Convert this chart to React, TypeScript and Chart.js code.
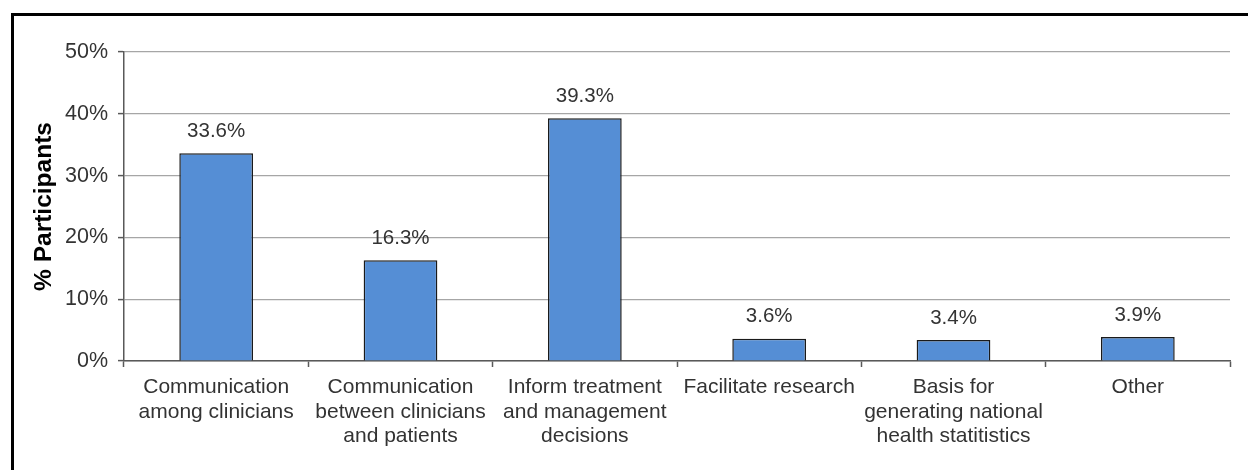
import React, { useEffect, useRef } from "react";
import { Chart, registerables } from "chart.js";

Chart.register(...registerables);

const categories: string[][] = [
  ["Communication", "among clinicians"],
  ["Communication", "between clinicians", "and patients"],
  ["Inform treatment", "and management", "decisions"],
  ["Facilitate research"],
  ["Basis for", "generating national", "health statitistics"],
  ["Other"],
];
const values: number[] = [33.6, 16.3, 39.3, 3.6, 3.4, 3.9];
const yTicks: number[] = [0, 10, 20, 30, 40, 50];
const yTitle = "% Participants";

const FONT = "'Liberation Sans', Arial, sans-serif";
const TEXT = "#333333";
const AXIS = "#595959";

const dataLabels = {
  id: "dataLabels",
  afterDatasetsDraw(chart: any) {
    const ctx = chart.ctx;
    const meta = chart.getDatasetMeta(0);
    ctx.save();
    ctx.font = `20.5px ${FONT}`;
    ctx.fillStyle = TEXT;
    ctx.textAlign = "center";
    ctx.textBaseline = "middle";
    meta.data.forEach((bar: any, i: number) => {
      ctx.fillText(values[i].toFixed(1) + "%", bar.x, bar.y - 22);
    });
    ctx.restore();
  },
};

export default function App() {
  const ref = useRef<HTMLCanvasElement | null>(null);
  useEffect(() => {
    if (!ref.current) return;
    const chart = new Chart(ref.current, {
      type: "bar",
      data: {
        labels: categories,
        datasets: [
          {
            data: values,
            backgroundColor: "#558ED5",
            borderColor: "#1a1a1a",
            borderWidth: 1.5,
            barPercentage: 0.8,
            categoryPercentage: 0.5,
          },
        ],
      },
      options: {
        animation: false,
        responsive: false,
        maintainAspectRatio: false,
        layout: { padding: { left: 0, top: 52, right: 18, bottom: 0 } },
        plugins: { legend: { display: false }, tooltip: { enabled: false } },
        scales: {
          x: {
            offset: true,
            grid: {
              drawOnChartArea: false,
              drawTicks: true,
              tickLength: 6,
              tickColor: AXIS,
              tickWidth: 1.5,
              offset: true,
            },
            border: { color: AXIS, width: 1.5 },
            ticks: {
              autoSkip: false,
              maxRotation: 0,
              minRotation: 0,
              padding: 8,
              color: TEXT,
              font: { family: FONT, size: 21, lineHeight: "24.5px" },
            },
            afterFit: (s: any) => {
              s.height = 109;
            },
          },
          y: {
            min: yTicks[0],
            max: yTicks[yTicks.length - 1],
            afterBuildTicks: (s: any) => {
              s.ticks = yTicks.map((v) => ({ value: v }));
            },
            grid: {
              color: "#a6a6a6",
              lineWidth: 1.2,
              tickLength: 6,
              tickColor: AXIS,
              tickWidth: 1.5,
            },
            border: { color: AXIS, width: 1.5 },
            ticks: {
              padding: 10,
              color: TEXT,
              font: { family: FONT, size: 21.5 },
              callback: (v: any) => v + "%",
            },
            title: {
              display: true,
              text: yTitle,
              color: "#000000",
              font: { family: FONT, size: 24.5, weight: "bold" },
              padding: { top: 30, bottom: 0 },
            },
            afterFit: (s: any) => {
              s.width = 124;
            },
          },
        },
      },
      plugins: [dataLabels],
    });
    return () => chart.destroy();
  }, []);

  return (
    <div
      style={{
        position: "fixed",
        left: 0,
        top: 0,
        width: 1248,
        height: 470,
        overflow: "hidden",
        background: "#ffffff",
      }}
    >
      <div
        style={{
          position: "absolute",
          left: 11,
          top: 13,
          width: 1300,
          height: 520,
          border: "3px solid #000",
          boxSizing: "border-box",
        }}
      />
      <canvas
        ref={ref}
        width={1248}
        height={470}
        style={{ position: "absolute", left: 0, top: 0, width: 1248, height: 470 }}
      />
    </div>
  );
}
